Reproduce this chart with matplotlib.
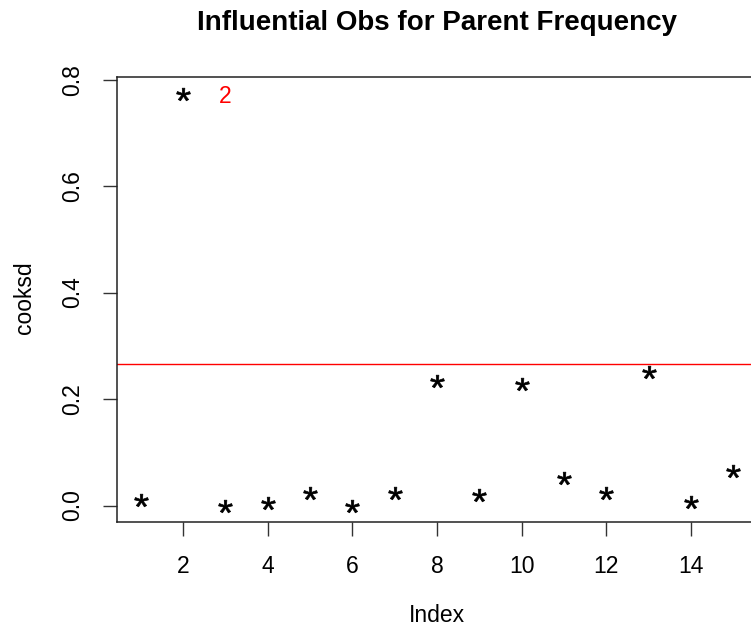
import numpy as np
import matplotlib
matplotlib.use("Agg")
from matplotlib import pyplot as plt
from matplotlib.textpath import TextPath
from matplotlib.font_manager import FontProperties
from matplotlib.path import Path

plt.rcParams['font.family'] = ['Liberation Sans', 'DejaVu Sans']

# --- DATA ---
index = np.arange(1, 16)
cooksd = [0.010, 0.774, 0.000, 0.004, 0.024, 0.000, 0.024, 0.233,
          0.019, 0.229, 0.051, 0.023, 0.250, 0.006, 0.064]
cutoff = 4 / len(cooksd)  # 4/n
labels = ["" if c <= cutoff else str(i) for i, c in zip(index, cooksd)]
xticks = [2, 4, 6, 8, 10, 12, 14]
yticks = [0.0, 0.2, 0.4, 0.6, 0.8]

# asterisk marker like R's pch="*", centred on its ink
tp = TextPath((0, 0), "*", prop=FontProperties(family='Liberation Sans'))
v = tp.vertices.copy()
codes = tp.codes
# closepoly vertices are dummies: point them at the subpath start
start = v[0].copy()
for k, c in enumerate(codes):
    if c == Path.MOVETO:
        start = v[k].copy()
    elif c == Path.CLOSEPOLY:
        v[k] = start
ext = tp.get_extents()
v[:, 0] -= (ext.x0 + ext.x1) / 2
v[:, 1] -= (ext.y0 + ext.y1) / 2
v[:, 0] *= 1.08
star = Path(v, codes)

W, H = 751, 628
fig = plt.figure(figsize=(W / 100, H / 100), dpi=100)
# plot region runs a bit past the right edge, as in the original
ax = fig.add_axes([117 / W, 1 - 522 / H, (757 - 117) / W, (522 - 76.5) / H])

ax.plot(index, cooksd, linestyle='none', marker=star, markersize=10,
        color='black', markeredgewidth=0.5)
ax.axhline(cutoff, color='red', lw=1)
for i, c, lab in zip(index, cooksd, labels):
    if lab:
        ax.text(i + 1, c, lab, color='red', fontsize=16.5, ha='center',
                va='center_baseline')

ax.set_xlim(0.44, 15.56)
ax.set_ylim(-0.031, 0.806)
ax.set_xticks(xticks)
ax.set_xticklabels([str(t) for t in xticks])
ax.set_yticks(yticks)
ax.set_yticklabels([f"{t:.1f}" for t in yticks], rotation=90, va='center')
ax.tick_params(direction='out', length=10, width=1, pad=14, labelsize=16.5,
               color='#333333')
for s in ax.spines.values():
    s.set_linewidth(1.1)
    s.set_color('#222222')

fig.text(437 / W, 1 - 23 / H, "Influential Obs for Parent Frequency",
         fontsize=20, fontweight='bold', ha='center', va='center')
fig.text(437 / W, 1 - 616 / H, "Index", fontsize=16.5, ha='center', va='center')
fig.text(25 / W, 1 - 298 / H, "cooksd", fontsize=16.5, ha='center', va='center',
         rotation=90)

fig.savefig("out.png", dpi=100)
